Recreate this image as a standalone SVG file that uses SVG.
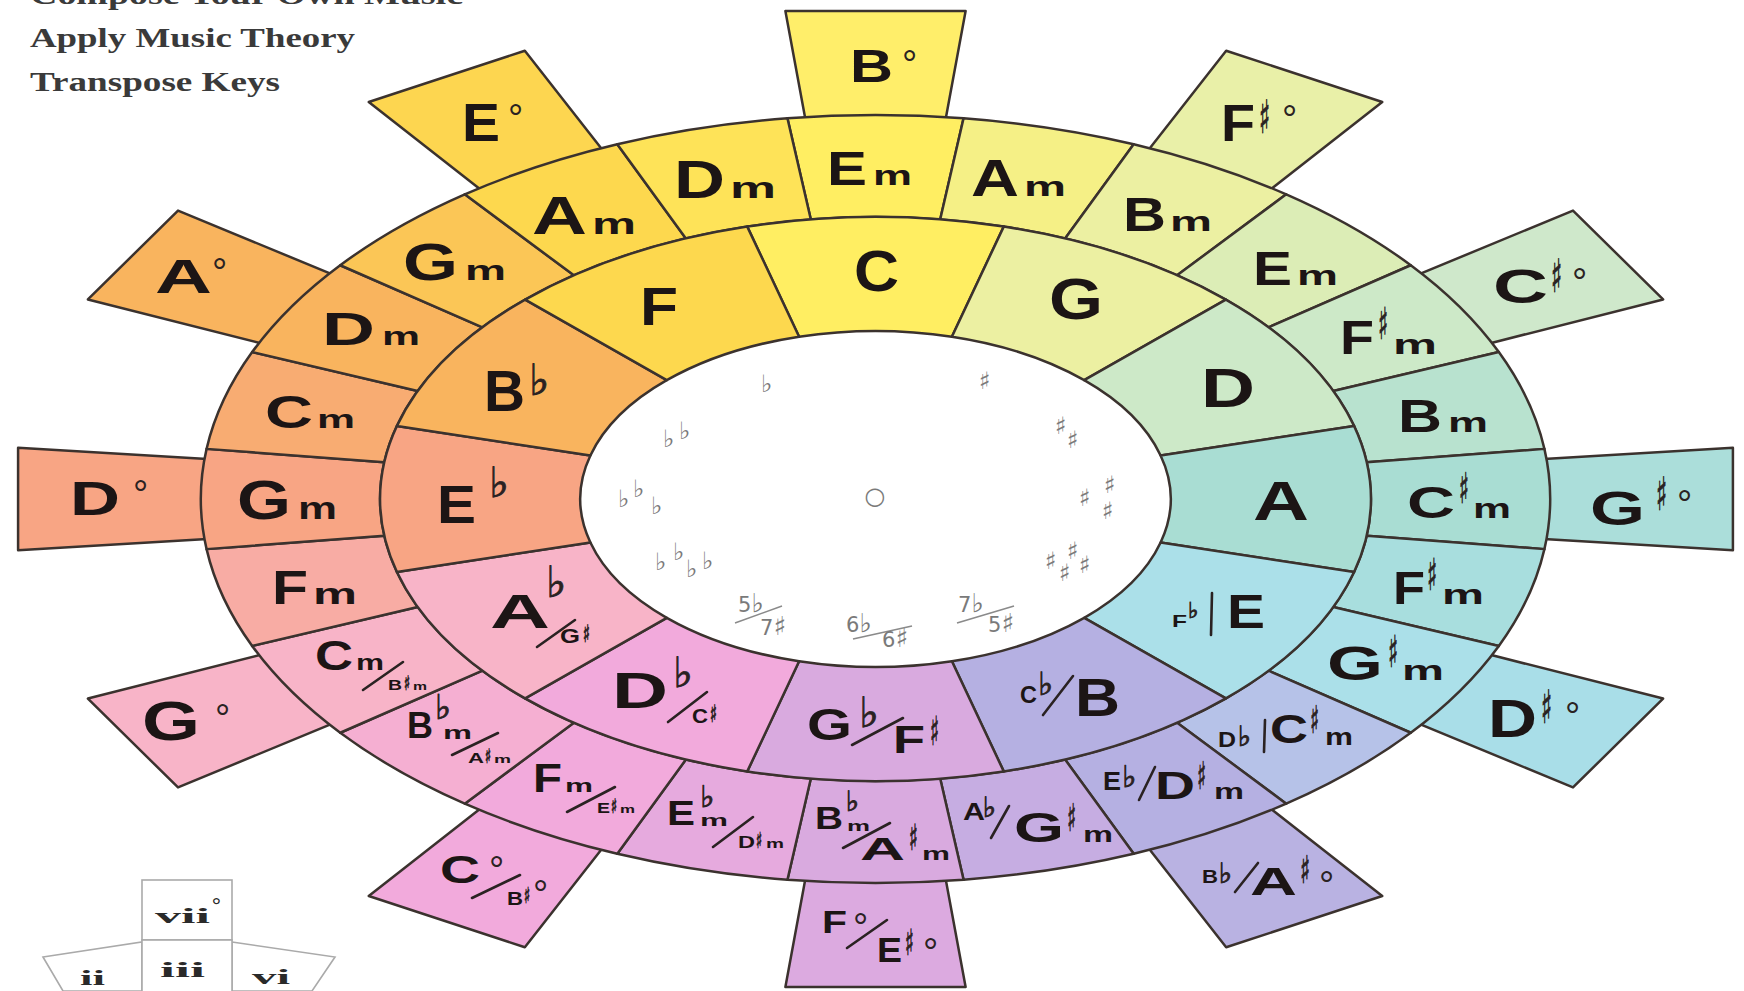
<svg xmlns="http://www.w3.org/2000/svg" width="1744" height="991" viewBox="0 0 1744 991">
<style>
.sh{stroke:#3b322e;stroke-width:2.5;stroke-linejoin:round}
.t{font-family:"Liberation Sans",Arial,sans-serif;font-weight:700;fill:#1c1515}
.a{font-family:"DejaVu Sans",sans-serif;font-weight:700;fill:#2a2222;stroke:#2a2222;stroke-width:0.9}
.d{font-family:"Liberation Sans",Arial,sans-serif;font-size:38px;fill:#2a2222}
.sl{stroke:#2a2222;stroke-width:2.6;stroke-linecap:round;fill:none}
.k{font-family:"DejaVu Sans",sans-serif;font-size:24px;fill:#7a7a7a}
.kn{font-family:"DejaVu Sans",sans-serif;font-size:21px;fill:#7a7a7a}
.kl{stroke:#8a8a8a;stroke-width:1.6}
.hd{font-family:"Liberation Serif","Times New Roman",serif;font-weight:700;font-size:28px;fill:#3a3a3a}
.cd{fill:#fff;stroke:#aaaaaa;stroke-width:1.6}
.cn{font-family:"Liberation Serif","Times New Roman",serif;font-weight:700;font-size:22px;fill:#2a2a2a}
</style>
<defs>
<path id="pMaj" vector-effect="non-scaling-stroke" d="M-72.987,-272.391A282,282 0 0 1 72.987,-272.391L43.482,-162.276A168,168 0 0 0 -43.482,-162.276Z"/>
<path id="pMin" vector-effect="non-scaling-stroke" d="M-50.122,-380.715A384,384 0 0 1 50.122,-380.715L36.808,-279.587A282,282 0 0 0 -36.808,-279.587Z"/>
<path id="pTab" vector-effect="non-scaling-stroke" d="M-39.72,-377.92L-51.29,-488L51.29,-488L39.72,-377.92Z"/>
</defs>
<rect width="1744" height="991" fill="#ffffff"/>

<g id="heading">
<text class="hd" x="30" y="4" textLength="433" lengthAdjust="spacingAndGlyphs">Compose Your Own Music</text>
<text class="hd" x="30" y="47" textLength="325" lengthAdjust="spacingAndGlyphs">Apply Music Theory</text>
<text class="hd" x="30" y="91" textLength="250" lengthAdjust="spacingAndGlyphs">Transpose Keys</text>
</g>

<g id="connectors"></g>

<!-- diminished tabs -->
<g id="tab-B-dim"><use href="#pTab" class="sh" fill="#FFEE6A" transform="translate(875.5 499) scale(1.757 1) rotate(0)"/>
<text class="t" x="850" y="82" font-size="47" textLength="43" lengthAdjust="spacingAndGlyphs">B</text><text class="d" x="902" y="77">°</text></g>
<g id="tab-Fs-dim"><use href="#pTab" class="sh" fill="#E9F0A8" transform="translate(875.5 499) scale(1.757 1) rotate(30)"/>
<text class="t" x="1221" y="141" font-size="52" textLength="34" lengthAdjust="spacingAndGlyphs">F</text><text class="a" x="1259" y="133" font-size="46" textLength="11" lengthAdjust="spacingAndGlyphs">♯</text><text class="d" x="1282" y="132">°</text></g>
<g id="tab-Cs-dim"><use href="#pTab" class="sh" fill="#CFE8CB" transform="translate(875.5 499) scale(1.757 1) rotate(60)"/>
<text class="t" x="1493" y="303" font-size="49" textLength="55" lengthAdjust="spacingAndGlyphs">C</text><text class="a" x="1551" y="292" font-size="46" textLength="11" lengthAdjust="spacingAndGlyphs">♯</text><text class="d" x="1572" y="295">°</text></g>
<g id="tab-Gs-dim"><use href="#pTab" class="sh" fill="#ABDEDA" transform="translate(875.5 499) scale(1.757 1) rotate(90)"/>
<text class="t" x="1590" y="525" font-size="49" textLength="55" lengthAdjust="spacingAndGlyphs">G</text><text class="a" x="1656" y="510" font-size="46" textLength="11" lengthAdjust="spacingAndGlyphs">♯</text><text class="d" x="1677" y="517">°</text></g>
<g id="tab-Ds-dim"><use href="#pTab" class="sh" fill="#A9DEE8" transform="translate(875.5 499) scale(1.757 1) rotate(120)"/>
<text class="t" x="1488" y="737" font-size="54" textLength="49" lengthAdjust="spacingAndGlyphs">D</text><text class="a" x="1541" y="723" font-size="46" textLength="11" lengthAdjust="spacingAndGlyphs">♯</text><text class="d" x="1565" y="729">°</text></g>
<g id="tab-As-dim"><use href="#pTab" class="sh" fill="#B9B2E2" transform="translate(875.5 499) scale(1.757 1) rotate(150)"/>
<text class="t" x="1202" y="883" font-size="18" textLength="16" lengthAdjust="spacingAndGlyphs">B</text><text class="a" x="1219" y="883" font-size="28">♭</text>
<line class="sl" x1="1235" y1="892" x2="1258" y2="863"/>
<text class="t" x="1250" y="895" font-size="38" textLength="47" lengthAdjust="spacingAndGlyphs">A</text><text class="a" x="1300" y="883" font-size="38" textLength="10" lengthAdjust="spacingAndGlyphs">♯</text><text class="d" x="1319" y="898">°</text></g>
<g id="tab-F-dim"><use href="#pTab" class="sh" fill="#DCAAE0" transform="translate(875.5 499) scale(1.757 1) rotate(180)"/>
<text class="t" x="822" y="933" font-size="32" textLength="25" lengthAdjust="spacingAndGlyphs">F</text><text class="d" x="853" y="940">°</text>
<line class="sl" x1="847" y1="948" x2="887" y2="920"/>
<text class="t" x="877" y="962" font-size="35" textLength="25" lengthAdjust="spacingAndGlyphs">E</text><text class="a" x="905" y="955" font-size="36" textLength="9" lengthAdjust="spacingAndGlyphs">♯</text><text class="d" x="923" y="965">°</text></g>
<g id="tab-C-dim"><use href="#pTab" class="sh" fill="#F2AADC" transform="translate(875.5 499) scale(1.757 1) rotate(210)"/>
<text class="t" x="440" y="883" font-size="39" textLength="40" lengthAdjust="spacingAndGlyphs">C</text><text class="d" x="489" y="883">°</text>
<line class="sl" x1="472" y1="898" x2="520" y2="875"/>
<text class="t" x="507" y="905" font-size="18" textLength="16" lengthAdjust="spacingAndGlyphs">B</text><text class="a" x="524" y="903" font-size="22" textLength="6" lengthAdjust="spacingAndGlyphs">♯</text><text class="d" x="533" y="907" font-size="20">°</text></g>
<g id="tab-G-dim"><use href="#pTab" class="sh" fill="#F8B4C8" transform="translate(875.5 499) scale(1.757 1) rotate(240)"/>
<text class="t" x="142" y="740" font-size="56" textLength="58" lengthAdjust="spacingAndGlyphs">G</text><text class="d" x="215" y="731">°</text></g>
<g id="tab-D-dim"><use href="#pTab" class="sh" fill="#F8A584" transform="translate(875.5 499) scale(1.757 1) rotate(270)"/>
<text class="t" x="70" y="515" font-size="49" textLength="50" lengthAdjust="spacingAndGlyphs">D</text><text class="d" x="133" y="507">°</text></g>
<g id="tab-A-dim"><use href="#pTab" class="sh" fill="#F9B45E" transform="translate(875.5 499) scale(1.757 1) rotate(300)"/>
<text class="t" x="155" y="293" font-size="49" textLength="57" lengthAdjust="spacingAndGlyphs">A</text><text class="d" x="212" y="285">°</text></g>
<g id="tab-E-dim"><use href="#pTab" class="sh" fill="#FDD650" transform="translate(875.5 499) scale(1.757 1) rotate(330)"/>
<text class="t" x="462" y="141" font-size="54" textLength="38" lengthAdjust="spacingAndGlyphs">E</text><text class="d" x="508" y="131">°</text></g>

<!-- minor ring -->
<g id="min-00-Em"><use href="#pMin" class="sh" fill="#FFEE62" transform="translate(875.5 499) scale(1.757 1) rotate(0)"/>
<text class="t" x="827" y="185" font-size="49" textLength="40" lengthAdjust="spacingAndGlyphs">E</text><text class="t" x="873" y="185" font-size="28" textLength="39" lengthAdjust="spacingAndGlyphs">m</text></g>
<g id="min-01-Am"><use href="#pMin" class="sh" fill="#F5F086" transform="translate(875.5 499) scale(1.757 1) rotate(15)"/>
<text class="t" x="971" y="196" font-size="51" textLength="48" lengthAdjust="spacingAndGlyphs">A</text><text class="t" x="1024" y="196" font-size="28" textLength="42" lengthAdjust="spacingAndGlyphs">m</text></g>
<g id="min-02-Bm"><use href="#pMin" class="sh" fill="#ECF0A2" transform="translate(875.5 499) scale(1.757 1) rotate(30)"/>
<text class="t" x="1123" y="231" font-size="49" textLength="43" lengthAdjust="spacingAndGlyphs">B</text><text class="t" x="1170" y="231" font-size="28" textLength="42" lengthAdjust="spacingAndGlyphs">m</text></g>
<g id="min-03-Em"><use href="#pMin" class="sh" fill="#DCEDB6" transform="translate(875.5 499) scale(1.757 1) rotate(45)"/>
<text class="t" x="1253" y="285" font-size="49" textLength="39" lengthAdjust="spacingAndGlyphs">E</text><text class="t" x="1297" y="285" font-size="28" textLength="41" lengthAdjust="spacingAndGlyphs">m</text></g>
<g id="min-04-Fsm"><use href="#pMin" class="sh" fill="#CDE9C8" transform="translate(875.5 499) scale(1.757 1) rotate(60)"/>
<text class="t" x="1340" y="354" font-size="48" textLength="34" lengthAdjust="spacingAndGlyphs">F</text><text class="a" x="1378" y="339" font-size="44" textLength="10" lengthAdjust="spacingAndGlyphs">♯</text><text class="t" x="1393" y="354" font-size="28" textLength="44" lengthAdjust="spacingAndGlyphs">m</text></g>
<g id="min-05-Bm"><use href="#pMin" class="sh" fill="#B8E2CF" transform="translate(875.5 499) scale(1.757 1) rotate(75)"/>
<text class="t" x="1398" y="432" font-size="47" textLength="44" lengthAdjust="spacingAndGlyphs">B</text><text class="t" x="1448" y="432" font-size="28" textLength="40" lengthAdjust="spacingAndGlyphs">m</text></g>
<g id="min-06-Csm"><use href="#pMin" class="sh" fill="#A9DDD3" transform="translate(875.5 499) scale(1.757 1) rotate(90)"/>
<text class="t" x="1407" y="518" font-size="44" textLength="48" lengthAdjust="spacingAndGlyphs">C</text><text class="a" x="1459" y="503" font-size="42" textLength="10" lengthAdjust="spacingAndGlyphs">♯</text><text class="t" x="1473" y="518" font-size="28" textLength="38" lengthAdjust="spacingAndGlyphs">m</text></g>
<g id="min-07-Fsm"><use href="#pMin" class="sh" fill="#A8DEDE" transform="translate(875.5 499) scale(1.757 1) rotate(105)"/>
<text class="t" x="1393" y="604" font-size="46" textLength="32" lengthAdjust="spacingAndGlyphs">F</text><text class="a" x="1427" y="590" font-size="44" textLength="10" lengthAdjust="spacingAndGlyphs">♯</text><text class="t" x="1442" y="604" font-size="28" textLength="42" lengthAdjust="spacingAndGlyphs">m</text></g>
<g id="min-08-Gsm"><use href="#pMin" class="sh" fill="#ABE0E9" transform="translate(875.5 499) scale(1.757 1) rotate(120)"/>
<text class="t" x="1327" y="680" font-size="49" textLength="56" lengthAdjust="spacingAndGlyphs">G</text><text class="a" x="1388" y="667" font-size="44" textLength="10" lengthAdjust="spacingAndGlyphs">♯</text><text class="t" x="1402" y="680" font-size="28" textLength="42" lengthAdjust="spacingAndGlyphs">m</text></g>
<g id="min-09-Dbm-Csm"><use href="#pMin" class="sh" fill="#B6C2E8" transform="translate(875.5 499) scale(1.757 1) rotate(135)"/>
<text class="t" x="1218" y="747" font-size="22" textLength="18" lengthAdjust="spacingAndGlyphs">D</text><text class="a" x="1238" y="746" font-size="28">♭</text>
<line class="sl" x1="1265" y1="720" x2="1264" y2="752"/>
<text class="t" x="1270" y="743" font-size="40" textLength="38" lengthAdjust="spacingAndGlyphs">C</text><text class="a" x="1310" y="733" font-size="38" textLength="9" lengthAdjust="spacingAndGlyphs">♯</text><text class="t" x="1325" y="745" font-size="24" textLength="28" lengthAdjust="spacingAndGlyphs">m</text></g>
<g id="min-10-Eb-Dsm"><use href="#pMin" class="sh" fill="#B5B0E2" transform="translate(875.5 499) scale(1.757 1) rotate(150)"/>
<text class="t" x="1103" y="790" font-size="26" textLength="18" lengthAdjust="spacingAndGlyphs">E</text><text class="a" x="1122" y="787" font-size="30">♭</text>
<line class="sl" x1="1139" y1="800" x2="1155" y2="767"/>
<text class="t" x="1155" y="799" font-size="38" textLength="40" lengthAdjust="spacingAndGlyphs">D</text><text class="a" x="1197" y="789" font-size="38" textLength="9" lengthAdjust="spacingAndGlyphs">♯</text><text class="t" x="1214" y="799" font-size="22" textLength="30" lengthAdjust="spacingAndGlyphs">m</text></g>
<g id="min-11-Ab-Gsm"><use href="#pMin" class="sh" fill="#C6ADE2" transform="translate(875.5 499) scale(1.757 1) rotate(165)"/>
<text class="t" x="963" y="820" font-size="24" textLength="22" lengthAdjust="spacingAndGlyphs">A</text><text class="a" x="983" y="817" font-size="28">♭</text>
<line class="sl" x1="991" y1="838" x2="1009" y2="806"/>
<text class="t" x="1014" y="842" font-size="42" textLength="50" lengthAdjust="spacingAndGlyphs">G</text><text class="a" x="1067" y="831" font-size="38" textLength="9" lengthAdjust="spacingAndGlyphs">♯</text><text class="t" x="1083" y="842" font-size="22" textLength="30" lengthAdjust="spacingAndGlyphs">m</text></g>
<g id="min-12-Bbm-Asm"><use href="#pMin" class="sh" fill="#D9AADF" transform="translate(875.5 499) scale(1.757 1) rotate(180)"/>
<text class="t" x="815" y="829" font-size="31" textLength="28" lengthAdjust="spacingAndGlyphs">B</text><text class="a" x="846" y="811" font-size="28">♭</text><text class="t" x="847" y="831" font-size="14" textLength="23" lengthAdjust="spacingAndGlyphs">m</text>
<line class="sl" x1="843" y1="848" x2="890" y2="823"/>
<text class="t" x="860" y="860" font-size="32" textLength="45" lengthAdjust="spacingAndGlyphs">A</text><text class="a" x="909" y="850" font-size="36" textLength="9" lengthAdjust="spacingAndGlyphs">♯</text><text class="t" x="922" y="860" font-size="18" textLength="28" lengthAdjust="spacingAndGlyphs">m</text></g>
<g id="min-13-Ebm-Dsm"><use href="#pMin" class="sh" fill="#E6AADE" transform="translate(875.5 499) scale(1.757 1) rotate(195)"/>
<text class="t" x="667" y="825" font-size="35" textLength="28" lengthAdjust="spacingAndGlyphs">E</text><text class="a" x="700" y="807" font-size="30">♭</text><text class="t" x="700" y="826" font-size="16" textLength="28" lengthAdjust="spacingAndGlyphs">m</text>
<line class="sl" x1="713" y1="847" x2="753" y2="817"/>
<text class="t" x="738" y="848" font-size="16" textLength="17" lengthAdjust="spacingAndGlyphs">D</text><text class="a" x="756" y="848" font-size="22" textLength="6" lengthAdjust="spacingAndGlyphs">♯</text><text class="t" x="766" y="848" font-size="12" textLength="18" lengthAdjust="spacingAndGlyphs">m</text></g>
<g id="min-14-Fm-Esm"><use href="#pMin" class="sh" fill="#F2AADC" transform="translate(875.5 499) scale(1.757 1) rotate(210)"/>
<text class="t" x="533" y="792" font-size="40" textLength="29" lengthAdjust="spacingAndGlyphs">F</text><text class="t" x="565" y="792" font-size="19" textLength="28" lengthAdjust="spacingAndGlyphs">m</text>
<line class="sl" x1="567" y1="812" x2="615" y2="787"/>
<text class="t" x="597" y="813" font-size="15" textLength="13" lengthAdjust="spacingAndGlyphs">E</text><text class="a" x="611" y="813" font-size="20" textLength="6" lengthAdjust="spacingAndGlyphs">♯</text><text class="t" x="620" y="813" font-size="11" textLength="15" lengthAdjust="spacingAndGlyphs">m</text></g>
<g id="min-15-Bbm-Asm"><use href="#pMin" class="sh" fill="#F5AFD2" transform="translate(875.5 499) scale(1.757 1) rotate(225)"/>
<text class="t" x="407" y="738" font-size="36" textLength="26" lengthAdjust="spacingAndGlyphs">B</text><text class="a" x="435" y="719" font-size="34">♭</text><text class="t" x="443" y="739" font-size="19" textLength="29" lengthAdjust="spacingAndGlyphs">m</text>
<line class="sl" x1="452" y1="755" x2="498" y2="733"/>
<text class="t" x="468" y="763" font-size="15" textLength="16" lengthAdjust="spacingAndGlyphs">A</text><text class="a" x="485" y="763" font-size="20" textLength="6" lengthAdjust="spacingAndGlyphs">♯</text><text class="t" x="494" y="763" font-size="11" textLength="17" lengthAdjust="spacingAndGlyphs">m</text></g>
<g id="min-16-Cm-Bsm"><use href="#pMin" class="sh" fill="#F8B4C8" transform="translate(875.5 499) scale(1.757 1) rotate(240)"/>
<text class="t" x="315" y="670" font-size="43" textLength="38" lengthAdjust="spacingAndGlyphs">C</text><text class="t" x="356" y="670" font-size="22" textLength="28" lengthAdjust="spacingAndGlyphs">m</text>
<line class="sl" x1="363" y1="690" x2="403" y2="662"/>
<text class="t" x="388" y="690" font-size="15" textLength="14" lengthAdjust="spacingAndGlyphs">B</text><text class="a" x="404" y="690" font-size="20" textLength="6" lengthAdjust="spacingAndGlyphs">♯</text><text class="t" x="413" y="690" font-size="11" textLength="14" lengthAdjust="spacingAndGlyphs">m</text></g>
<g id="min-17-Fm"><use href="#pMin" class="sh" fill="#F8ACA4" transform="translate(875.5 499) scale(1.757 1) rotate(255)"/>
<text class="t" x="272" y="604" font-size="49" textLength="36" lengthAdjust="spacingAndGlyphs">F</text><text class="t" x="313" y="604" font-size="30" textLength="44" lengthAdjust="spacingAndGlyphs">m</text></g>
<g id="min-18-Gm"><use href="#pMin" class="sh" fill="#F8A584" transform="translate(875.5 499) scale(1.757 1) rotate(270)"/>
<text class="t" x="237" y="519" font-size="56" textLength="54" lengthAdjust="spacingAndGlyphs">G</text><text class="t" x="298" y="519" font-size="31" textLength="39" lengthAdjust="spacingAndGlyphs">m</text></g>
<g id="min-19-Cm"><use href="#pMin" class="sh" fill="#F8AC72" transform="translate(875.5 499) scale(1.757 1) rotate(285)"/>
<text class="t" x="265" y="428" font-size="46" textLength="48" lengthAdjust="spacingAndGlyphs">C</text><text class="t" x="317" y="428" font-size="26" textLength="38" lengthAdjust="spacingAndGlyphs">m</text></g>
<g id="min-20-Dm"><use href="#pMin" class="sh" fill="#F9B45E" transform="translate(875.5 499) scale(1.757 1) rotate(300)"/>
<text class="t" x="322" y="345" font-size="46" textLength="53" lengthAdjust="spacingAndGlyphs">D</text><text class="t" x="382" y="345" font-size="26" textLength="38" lengthAdjust="spacingAndGlyphs">m</text></g>
<g id="min-21-Gm"><use href="#pMin" class="sh" fill="#FBC656" transform="translate(875.5 499) scale(1.757 1) rotate(315)"/>
<text class="t" x="403" y="280" font-size="52" textLength="55" lengthAdjust="spacingAndGlyphs">G</text><text class="t" x="465" y="280" font-size="28" textLength="41" lengthAdjust="spacingAndGlyphs">m</text></g>
<g id="min-22-Am"><use href="#pMin" class="sh" fill="#FDD84E" transform="translate(875.5 499) scale(1.757 1) rotate(330)"/>
<text class="t" x="532" y="234" font-size="53" textLength="55" lengthAdjust="spacingAndGlyphs">A</text><text class="t" x="592" y="234" font-size="29" textLength="44" lengthAdjust="spacingAndGlyphs">m</text></g>
<g id="min-23-Dm"><use href="#pMin" class="sh" fill="#FEE358" transform="translate(875.5 499) scale(1.757 1) rotate(345)"/>
<text class="t" x="674" y="198" font-size="54" textLength="51" lengthAdjust="spacingAndGlyphs">D</text><text class="t" x="730" y="198" font-size="29" textLength="46" lengthAdjust="spacingAndGlyphs">m</text></g>

<!-- major ring -->
<g id="maj-C"><use href="#pMaj" class="sh" fill="#FFEE62" transform="translate(875.5 499) scale(1.757 1) rotate(0)"/>
<text class="t" x="854" y="291" font-size="57" textLength="45" lengthAdjust="spacingAndGlyphs">C</text></g>
<g id="maj-G"><use href="#pMaj" class="sh" fill="#ECF0A2" transform="translate(875.5 499) scale(1.757 1) rotate(30)"/>
<text class="t" x="1049" y="319" font-size="57" textLength="54" lengthAdjust="spacingAndGlyphs">G</text></g>
<g id="maj-D"><use href="#pMaj" class="sh" fill="#CDE9C8" transform="translate(875.5 499) scale(1.757 1) rotate(60)"/>
<text class="t" x="1201" y="407" font-size="56" textLength="54" lengthAdjust="spacingAndGlyphs">D</text></g>
<g id="maj-A"><use href="#pMaj" class="sh" fill="#A9DDD3" transform="translate(875.5 499) scale(1.757 1) rotate(90)"/>
<text class="t" x="1253" y="520" font-size="56" textLength="56" lengthAdjust="spacingAndGlyphs">A</text></g>
<g id="maj-Fb-E"><use href="#pMaj" class="sh" fill="#ABE0E9" transform="translate(875.5 499) scale(1.757 1) rotate(120)"/>
<text class="t" x="1172" y="627" font-size="17" textLength="15" lengthAdjust="spacingAndGlyphs">F</text><text class="a" x="1188" y="618" font-size="22">♭</text>
<line class="sl" x1="1212" y1="593" x2="1211" y2="635"/>
<text class="t" x="1227" y="628" font-size="49" textLength="38" lengthAdjust="spacingAndGlyphs">E</text></g>
<g id="maj-Cb-B"><use href="#pMaj" class="sh" fill="#B5B0E2" transform="translate(875.5 499) scale(1.757 1) rotate(150)"/>
<text class="t" x="1020" y="703" font-size="23" textLength="17" lengthAdjust="spacingAndGlyphs">C</text><text class="a" x="1038" y="695" font-size="32">♭</text>
<line class="sl" x1="1043" y1="715" x2="1073" y2="676"/>
<text class="t" x="1075" y="716" font-size="53" textLength="45" lengthAdjust="spacingAndGlyphs">B</text></g>
<g id="maj-Gb-Fs"><use href="#pMaj" class="sh" fill="#D9AADF" transform="translate(875.5 499) scale(1.757 1) rotate(180)"/>
<text class="t" x="807" y="740" font-size="45" textLength="45" lengthAdjust="spacingAndGlyphs">G</text><text class="a" x="859" y="727" font-size="42">♭</text>
<line class="sl" x1="852" y1="745" x2="903" y2="718"/>
<text class="t" x="893" y="753" font-size="39" textLength="32" lengthAdjust="spacingAndGlyphs">F</text><text class="a" x="930" y="745" font-size="40" textLength="9" lengthAdjust="spacingAndGlyphs">♯</text></g>
<g id="maj-Db-Cs"><use href="#pMaj" class="sh" fill="#F2AADC" transform="translate(875.5 499) scale(1.757 1) rotate(210)"/>
<text class="t" x="612" y="708" font-size="50" textLength="56" lengthAdjust="spacingAndGlyphs">D</text><text class="a" x="673" y="687" font-size="42">♭</text>
<line class="sl" x1="668" y1="722" x2="707" y2="692"/>
<text class="t" x="692" y="723" font-size="21" textLength="16" lengthAdjust="spacingAndGlyphs">C</text><text class="a" x="710" y="722" font-size="24" textLength="7" lengthAdjust="spacingAndGlyphs">♯</text></g>
<g id="maj-Ab-Gs"><use href="#pMaj" class="sh" fill="#F8B4C8" transform="translate(875.5 499) scale(1.757 1) rotate(240)"/>
<text class="t" x="490" y="628" font-size="49" textLength="60" lengthAdjust="spacingAndGlyphs">A</text><text class="a" x="546" y="597" font-size="43">♭</text>
<line class="sl" x1="537" y1="647" x2="575" y2="620"/>
<text class="t" x="560" y="643" font-size="21" textLength="20" lengthAdjust="spacingAndGlyphs">G</text><text class="a" x="583" y="642" font-size="24" textLength="7" lengthAdjust="spacingAndGlyphs">♯</text></g>
<g id="maj-Eb"><use href="#pMaj" class="sh" fill="#F8A584" transform="translate(875.5 499) scale(1.757 1) rotate(270)"/>
<text class="t" x="437" y="523" font-size="53" textLength="39" lengthAdjust="spacingAndGlyphs">E</text><text class="a" x="489" y="497" font-size="42">♭</text></g>
<g id="maj-Bb"><use href="#pMaj" class="sh" fill="#F9B45E" transform="translate(875.5 499) scale(1.757 1) rotate(300)"/>
<text class="t" x="484" y="411" font-size="57" textLength="41" lengthAdjust="spacingAndGlyphs">B</text><text class="a" x="529" y="395" font-size="43">♭</text></g>
<g id="maj-F"><use href="#pMaj" class="sh" fill="#FDD84E" transform="translate(875.5 499) scale(1.757 1) rotate(330)"/>
<text class="t" x="640" y="325" font-size="53" textLength="38" lengthAdjust="spacingAndGlyphs">F</text></g>

<!-- key signatures in the centre -->
<g id="key-signatures">
<text class="k" x="875" y="504" text-anchor="middle" font-size="17">○</text>
<text class="k" x="761" y="392">♭</text>
<text class="k"><tspan x="663" y="447">♭</tspan><tspan x="679" y="439">♭</tspan></text>
<text class="k"><tspan x="618" y="507">♭</tspan><tspan x="633" y="497">♭</tspan><tspan x="651" y="514">♭</tspan></text>
<text class="k"><tspan x="655" y="570">♭</tspan><tspan x="673" y="560">♭</tspan><tspan x="686" y="577">♭</tspan><tspan x="702" y="569">♭</tspan></text>
<text class="k" x="979" y="389">♯</text>
<text class="k"><tspan x="1055" y="434">♯</tspan><tspan x="1067" y="448">♯</tspan></text>
<text class="k"><tspan x="1079" y="506">♯</tspan><tspan x="1104" y="493">♯</tspan><tspan x="1102" y="519">♯</tspan></text>
<text class="k"><tspan x="1045" y="569">♯</tspan><tspan x="1067" y="559">♯</tspan><tspan x="1059" y="581">♯</tspan><tspan x="1079" y="573">♯</tspan></text>
<text class="kn" x="738" y="612">5<tspan font-size="26">♭</tspan></text><line class="kl" x1="735" y1="623" x2="782" y2="606"/><text class="kn" x="760" y="635">7<tspan font-size="26">♯</tspan></text>
<text class="kn" x="846" y="632">6<tspan font-size="26">♭</tspan></text><line class="kl" x1="853" y1="639" x2="912" y2="626"/><text class="kn" x="882" y="647">6<tspan font-size="26">♯</tspan></text>
<text class="kn" x="958" y="612">7<tspan font-size="26">♭</tspan></text><line class="kl" x1="957" y1="623" x2="1014" y2="606"/><text class="kn" x="988" y="632">5<tspan font-size="26">♯</tspan></text>
</g>

<!-- legend cards, bottom left -->
<g id="legend-cards">
<polygon class="cd" points="43,957 142,942 142,991 63,991"/>
<polygon class="cd" points="232,942 335,957 312,991 232,991"/>
<rect class="cd" x="142" y="880" width="90" height="60"/>
<rect class="cd" x="142" y="940" width="90" height="60"/>
<text class="cn" x="155" y="923" textLength="55" lengthAdjust="spacingAndGlyphs">vii</text><text class="cn" x="212" y="912" font-size="12">°</text>
<text class="cn" x="160" y="977" textLength="45" lengthAdjust="spacingAndGlyphs">iii</text>
<text class="cn" x="80" y="985" textLength="25" lengthAdjust="spacingAndGlyphs">ii</text>
<text class="cn" x="252" y="984" textLength="38" lengthAdjust="spacingAndGlyphs">vi</text>
</g>
</svg>
